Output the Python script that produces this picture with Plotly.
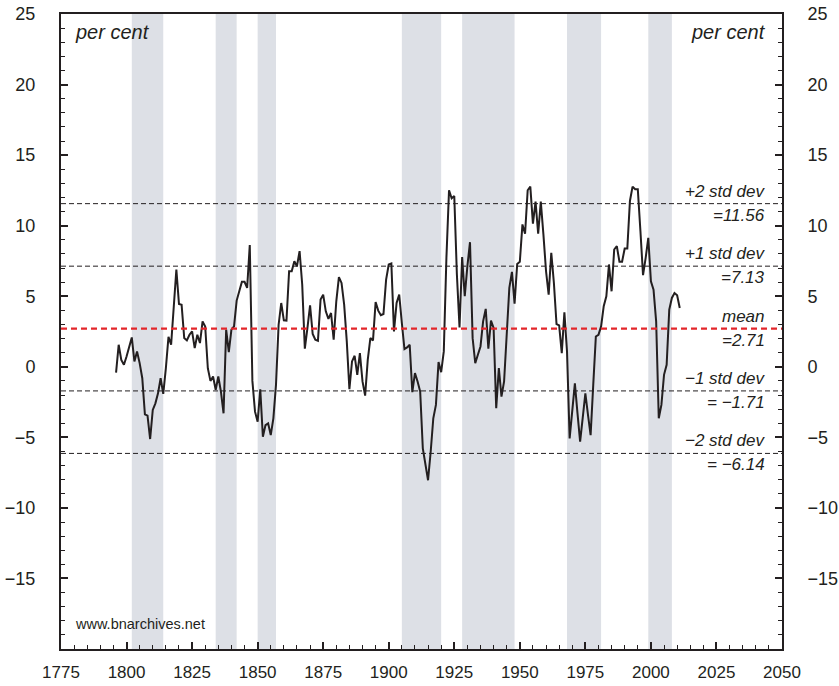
import plotly.graph_objects as go

# ---------------- data ----------------
first_year = 1796
values = [
    -0.41, 1.56, 0.49, 0.14, 0.73, 1.5, 2.08, 0.38, 1.09, 0.26,          # 1796-1805
    -0.81, -3.37, -3.46, -5.12, -3.06, -2.59, -1.88, -0.81, -1.92, -0.10, # 1806-1815
    2.13, 1.56, 4.17, 6.89, 4.45, 4.40, 2.03, 1.87, 2.27, 2.51,           # 1816-1825
    1.32, 2.27, 1.68, 3.22, 2.86, -0.10, -1.00, -0.69, -1.64, -0.69,      # 1826-1835
    -1.76, -3.30, 2.63, 1.04, 2.63, 2.86, 4.69, 5.35, 6.02, 6.02,         # 1836-1845
    5.59, 8.62, -1.0, -3.18, -3.89, -1.59, -4.96, -4.13, -4.01, -4.84,    # 1846-1855
    -3.65, -1.28, 2.98, 4.52, 3.29, 3.27, 6.77, 6.77, 7.48, 7.13,         # 1856-1865
    8.2, 5.83, 1.28, 2.75, 4.36, 2.32, 1.92, 1.84, 4.76, 5.11,            # 1866-1875
    3.93, 3.39, 3.81, 1.92, 4.64, 6.35, 5.94, 4.40, 1.80, -1.59,          # 1876-1885
    0.38, 0.78, -0.57, 0.97, -1.04, -2.04, 0.49, 2.03, 1.87, 4.59,        # 1886-1895
    3.98, 3.65, 3.74, 6.18, 7.25, 7.32, 2.51, 4.52, 5.11, 3.10,           # 1896-1905
    1.25, 1.37, 1.56, -1.80, -0.45, -1.04, -1.76, -5.79, -6.85, -8.04,    # 1906-1915
    -6.02, -3.65, -2.70, 0.33, -0.38, 1.09, 7.72, 12.51, 11.94, 12.1,     # 1916-1925
    6.54, 2.79, 7.77, 5.0, 7.13, 8.83, 2.03, 0.26, 0.85, 1.44,            # 1926-1935
    3.22, 4.10, 1.28, 3.27, 2.75, -2.94, -0.10, -2.11, -1.04, 1.92,       # 1936-1945
    5.59, 6.73, 4.48, 7.29, 7.44, 10.09, 9.43, 12.51, 12.77, 10.14,       # 1946-1955
    11.70, 9.43, 11.70, 9.38, 6.77, 5.11, 8.08, 5.94, 3.03, 2.93,         # 1956-1965
    0.97, 3.86, 1.09, -5.08, -3.1, -1.17, -3.3, -5.31, -3.6, -1.88,       # 1966-1975
    -3.4, -4.84, -1.3, 2.15, 2.27, 2.86, 4.29, 5.0, 7.25, 5.35,           # 1976-1985
    8.31, 8.55, 7.44, 7.44, 8.38, 8.38, 11.75, 12.77, 12.58, 12.58,       # 1986-1995
    9.62, 6.49, 7.72, 9.14, 6.06, 5.47, 3.22, -3.65, -2.70, -0.57,        # 1996-2005
    0.14, 4.05, 4.88, 5.23, 5.07, 4.17,                                   # 2006-2011
]
years = list(range(first_year, first_year + len(values)))

shade_start = [1802, 1834, 1850, 1905, 1928, 1968, 1999]
shade_end = [1814, 1842, 1857, 1920, 1948, 1981, 2008]

ref_levels = [11.56, 7.13, 2.71, -1.71, -6.14]
ref_names = ["+2 std dev", "+1 std dev", "mean", "\u22121 std dev", "\u22122 std dev"]
ref_values_text = ["=11.56", "=7.13", "=2.71", "= \u22121.71", "= \u22126.14"]

y_tickvals = [25, 20, 15, 10, 5, 0, -5, -10, -15]
y_ticktext = ["25", "20", "15", "10", "5", "0", "\u22125", "\u221210", "\u221215"]
x_tickvals = [1775, 1800, 1825, 1850, 1875, 1900, 1925, 1950, 1975, 2000, 2025, 2050]

# ---------------- figure ----------------
FONT = "Liberation Sans, Arial, Helvetica, sans-serif"
INK = "#231f20"
fig = go.Figure()

fig.add_trace(go.Scatter(
    x=years, y=values, mode="lines",
    line=dict(color=INK, width=2),
    showlegend=False, hoverinfo="x+y",
))
# invisible trace to activate right axis
fig.add_trace(go.Scatter(x=[years[0]], y=[values[0]], yaxis="y2", mode="markers",
                         marker=dict(opacity=0), showlegend=False, hoverinfo="skip"))

shapes = []
for s, e in zip(shade_start, shade_end):
    shapes.append(dict(type="rect", xref="x", yref="paper", x0=s, x1=e, y0=0, y1=1,
                       fillcolor="#dde0e6", line=dict(width=0), layer="below"))
for lvl, name in zip(ref_levels, ref_names):
    if name == "mean":
        shapes.append(dict(type="line", xref="paper", yref="y", x0=0, x1=1, y0=lvl, y1=lvl,
                           line=dict(color="#e3262b", width=2.2, dash="6px,4px"), layer="above"))
    else:
        shapes.append(dict(type="line", xref="paper", yref="y", x0=0, x1=1, y0=lvl, y1=lvl,
                           line=dict(color=INK, width=1, dash="5px,3px"), layer="above"))

annotations = []
for lvl, name, vt in zip(ref_levels, ref_names, ref_values_text):
    annotations.append(dict(xref="paper", yref="y", x=0.979, y=lvl, xanchor="right", yanchor="bottom",
                            text="<i>" + name + "</i>", showarrow=False, yshift=1,
                            font=dict(family=FONT, size=17, color=INK)))
    annotations.append(dict(xref="paper", yref="y", x=0.979, y=lvl, xanchor="right", yanchor="top",
                            text="<i>" + vt + "</i>", showarrow=False, yshift=0,
                            font=dict(family=FONT, size=17, color=INK)))
annotations.append(dict(xref="paper", yref="paper", x=0.016, y=0.971, xanchor="left", yanchor="middle",
                        text="<i>per cent</i>", showarrow=False,
                        font=dict(family=FONT, size=20, color=INK)))
annotations.append(dict(xref="paper", yref="paper", x=0.981, y=0.971, xanchor="right", yanchor="middle",
                        text="<i>per cent</i>", showarrow=False,
                        font=dict(family=FONT, size=20, color=INK)))
annotations.append(dict(xref="paper", yref="paper", x=0.016, y=0.04, xanchor="left", yanchor="middle",
                        text="www.bnarchives.net", showarrow=False,
                        font=dict(family=FONT, size=14.5, color=INK)))

axis_common = dict(
    showgrid=False, zeroline=False, showline=True, linecolor=INK, linewidth=2,
    ticks="inside", ticklen=7, tickwidth=1.5, tickcolor=INK, automargin=False,
)

fig.update_layout(
    template="none",
    width=839, height=686,
    margin=dict(l=61, r=57, t=14, b=37, autoexpand=False),
    paper_bgcolor="white", plot_bgcolor="white",
    shapes=shapes, annotations=annotations,
    xaxis=dict(range=[1775, 2050], tickvals=x_tickvals, mirror=True,
               minor=dict(dtick=5, tick0=1775, ticks="inside", ticklen=4, tickcolor=INK, tickwidth=1),
               ticklabelstandoff=7, tickfont=dict(family=FONT, size=17, color=INK),
               **axis_common),
    yaxis=dict(range=[-20, 25], tickvals=y_tickvals, ticktext=y_ticktext,
               minor=dict(dtick=1, tick0=0, ticks="inside", ticklen=4, tickcolor=INK, tickwidth=1),
               ticklabelstandoff=20, tickfont=dict(family=FONT, size=18, color=INK),
               **axis_common),
    yaxis2=dict(range=[-20, 25], tickvals=y_tickvals, ticktext=y_ticktext, overlaying="y", side="right",
                minor=dict(dtick=1, tick0=0, ticks="inside", ticklen=4, tickcolor=INK, tickwidth=1),
                ticklabelstandoff=20, tickfont=dict(family=FONT, size=18, color=INK),
                **axis_common),
    hovermode="closest",
)

fig.write_html("out.html",
               config={"displayModeBar": False},
               post_script="document.body.style.margin='0px';document.body.style.padding='0px';"
                           "document.body.style.overflow='hidden';")
